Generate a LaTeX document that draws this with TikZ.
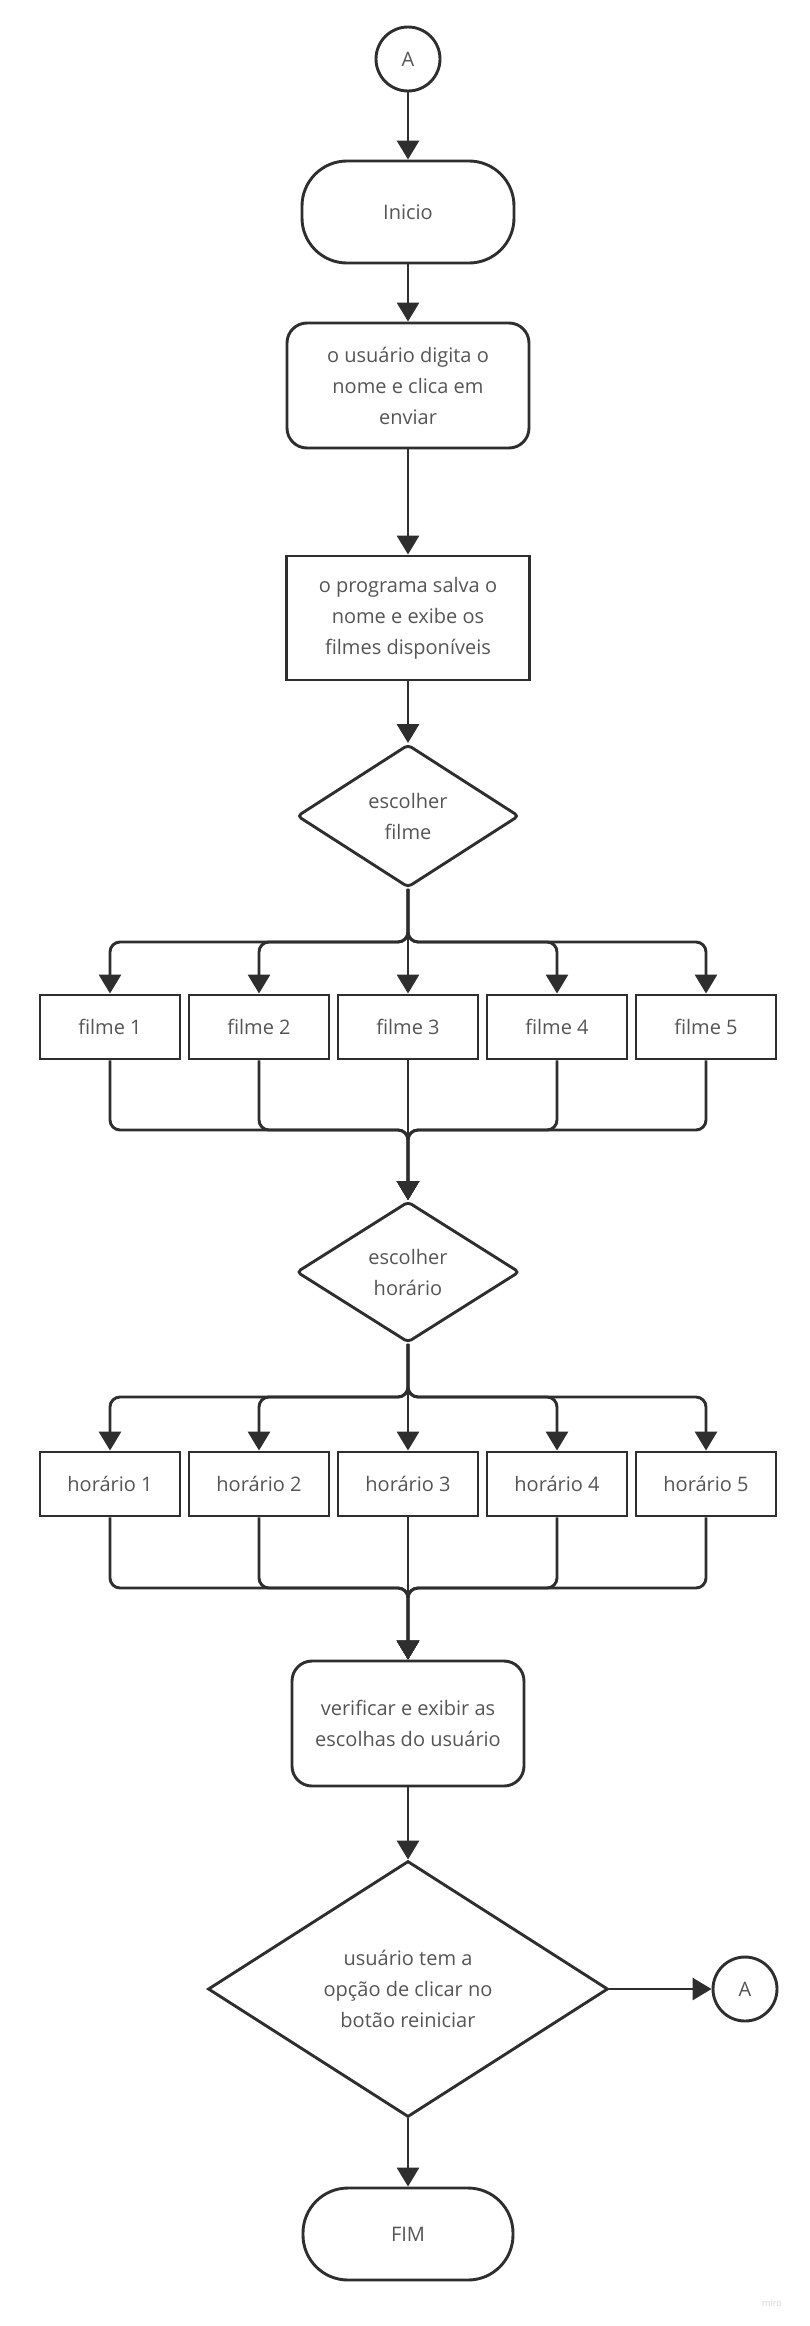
\documentclass[tikz,border=0pt]{standalone}
\usepackage{fontspec}
\setmainfont{Open Sans}
\usetikzlibrary{shapes.geometric, arrows.meta}
\definecolor{linegray}{HTML}{2E2E2E}
\definecolor{textgray}{HTML}{555555}
\definecolor{markgray}{HTML}{D4D4D4}
\begin{document}
\begin{tikzpicture}[x=1pt, y=-1pt,
  base/.style={font=\fontsize{20}{31}\selectfont, text=textgray, align=center,
    line width=2.9pt, draw=linegray, inner sep=0pt},
  terminal/.style={base, rectangle, rounded corners=45pt, minimum width=212pt},
  procround/.style={base, rectangle, rounded corners=20pt},
  procbox/.style={base, rectangle},
  decision/.style={base, diamond, aspect=1.6, rounded corners=4pt},
  option/.style={base, rectangle, minimum width=140pt, minimum height=64pt},
  joint/.style={base, circle, minimum size=64pt},
  conn/.style={line width=2.9pt, draw=linegray, rounded corners=10pt,
    -{Triangle[length=19pt,width=22pt]}}
]
\useasboundingbox (0,0) rectangle (809,2326);

% main column
\node[joint] (a1) at (408,59) {A};
\node[terminal, minimum height=102pt] (inicio) at (408,212) {Inicio};
\node[procround, minimum width=242pt, minimum height=125pt] (digita) at (408,385.5)
  {o usuário digita o\\nome e clica em\\enviar};
\node[procbox, minimum width=243pt, minimum height=124pt] (salva) at (408,618)
  {o programa salva o\\nome e exibe os\\filmes disponíveis};
\node[decision, minimum width=222pt, minimum height=143pt] (filme) at (408,816)
  {escolher\\filme};

% film options
\foreach \i/\x in {1/110,2/259,3/408,4/557,5/706}
  \node[option] (f\i) at (\x,1027) {filme \i};

\node[decision, minimum width=223pt, minimum height=141pt] (horario) at (408,1272)
  {escolher\\horário};

% time options
\foreach \i/\x in {1/110,2/259,3/408,4/557,5/706}
  \node[option] (h\i) at (\x,1484) {horário \i};

\node[procround, minimum width=232pt, minimum height=125pt] (verif) at (408,1723.5)
  {verificar e exibir as\\escolhas do usuário};
\node[decision, aspect=1.57, rounded corners=0pt, minimum width=400pt, minimum height=256pt]
  (reinicia) at (408,1989)
  {usuário tem a\\opção de clicar no\\botão reiniciar};
\node[joint] (a2) at (745,1989) {A};
\node[terminal, minimum width=210pt, minimum height=92pt] (fim) at (408,2234) {FIM};

\node[font=\fontsize{9}{10}\selectfont, text=markgray] (mark) at (772,2303) {miro};

% branch and merge points
\coordinate (s1) at (408,942);
\coordinate (m1) at (408,1130);
\coordinate (s2) at (408,1397);
\coordinate (m2) at (408,1588);

% connectors
\draw[conn] (a1) -- (inicio);
\draw[conn] (inicio) -- (digita);
\draw[conn] (digita) -- (salva);
\draw[conn] (salva) -- (filme.north);

\foreach \i in {1,2,4,5} {
  \draw[conn] (filme.south) -- (s1) -| (f\i.north);
  \draw[conn] (f\i.south) |- (m1) -- (horario.north);
  \draw[conn] (horario.south) -- (s2) -| (h\i.north);
  \draw[conn] (h\i.south) |- (m2) -- (verif.north);
}
\draw[conn] (filme.south) -- (f3.north);
\draw[conn] (f3.south) -- (horario.north);
\draw[conn] (horario.south) -- (h3.north);
\draw[conn] (h3.south) -- (verif.north);

\draw[conn] (verif) -- (reinicia.north);
\draw[conn] (reinicia.east) -- (a2.west);
\draw[conn] (reinicia.south) -- (fim.north);
\end{tikzpicture}
\end{document}
